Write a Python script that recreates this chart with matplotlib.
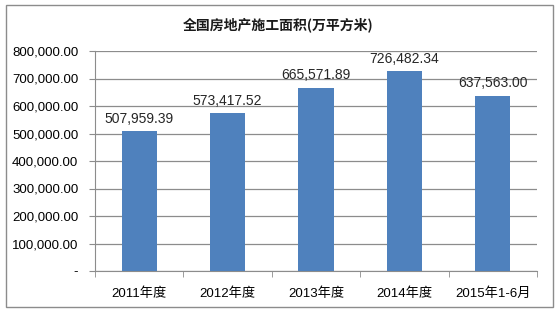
import matplotlib.pyplot as plt
from matplotlib.patches import Rectangle
from matplotlib.ticker import FuncFormatter, MultipleLocator

plt.rcParams['font.family'] = ['Noto Sans CJK SC', 'DejaVu Sans']

# data
categories = ['2011年度', '2012年度', '2013年度', '2014年度', '2015年1-6月']
values = [507959.39, 573417.52, 665571.89, 726482.34, 637563.00]
title = '全国房地产施工面积(万平方米)'

fig = plt.figure(figsize=(5.56, 3.13), dpi=100)
ax = fig.add_axes([95 / 556, 1 - 271 / 313, 442 / 556, 220 / 313])

# outer chart border
fig.patches.append(Rectangle((6 / 556, 1 - 307 / 313), 547 / 556, 302 / 313,
                             transform=fig.transFigure, fill=False,
                             edgecolor='#8c8c8c', linewidth=1))

x = range(len(categories))
ax.bar(x, values, width=0.4, color='#4f81bd', zorder=3)
for xi, v in zip(x, values):
    ax.text(xi, v + 20000, f'{v:,.2f}', ha='center', va='bottom',
            fontsize=10, family=['Liberation Sans', 'DejaVu Sans'], color='#262626')

ax.set_xlim(-0.5, len(categories) - 0.5)
ax.set_ylim(0, 800000)
ax.yaxis.set_major_locator(MultipleLocator(100000))
ax.yaxis.set_major_formatter(FuncFormatter(lambda v, p: '-' if v == 0 else f'{v:,.2f}'))
ax.grid(axis='y', color='#8c8c8c', linewidth=0.9, zorder=0)

ax.set_xticks(list(x))
ax.set_xticklabels(categories)
ax.set_xticks([i - 0.5 for i in range(len(categories) + 1)], minor=True)
ax.tick_params(axis='x', which='major', length=0, pad=12, labelsize=9.5)
ax.tick_params(axis='x', which='minor', length=4, color='#8c8c8c')
ax.tick_params(axis='y', length=4, color='#8c8c8c', labelsize=9.5, pad=8)
for lab in ax.get_yticklabels():
    lab.set_family(['Liberation Sans', 'DejaVu Sans'])
for lab in ax.get_xticklabels():
    lab.set_family(['Liberation Sans', 'Noto Sans CJK SC'])

for s in ['top', 'right']:
    ax.spines[s].set_visible(False)
ax.spines['left'].set_color('#8c8c8c')
ax.spines['bottom'].set_color('#8c8c8c')

fig.text(0.5, 1 - 25 / 313, title, ha='center', va='center',
         fontsize=10, fontweight='bold', color='#1a1a1a')

fig.savefig('out.png', dpi=100)
